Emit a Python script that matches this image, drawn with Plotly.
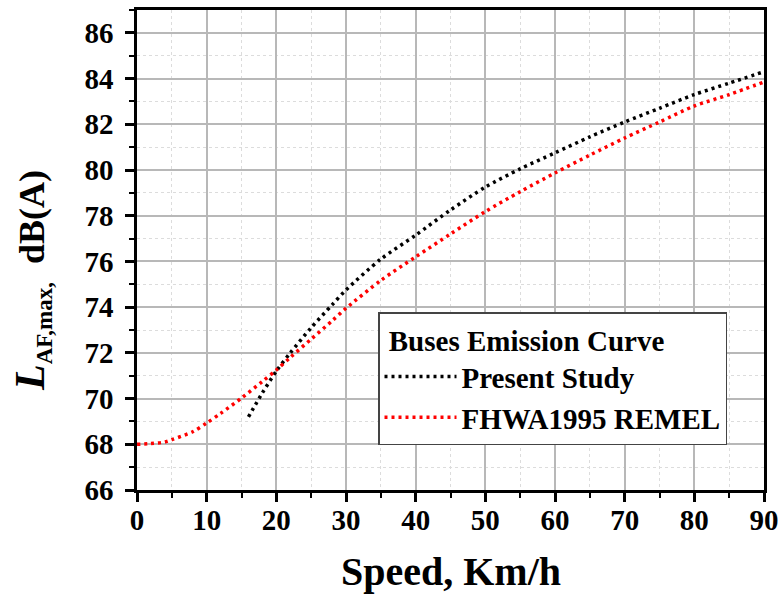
import plotly.graph_objects as go

# Data
speed_present = [16, 18, 20, 22, 25, 28, 30, 35, 40, 45, 50, 55, 60, 65, 70, 75, 80, 85, 90]
level_present = [69.2, 70.25, 71.2, 72.0, 73.1, 74.1, 74.75, 76.1, 77.15, 78.25, 79.25, 80.05,
                 80.75, 81.45, 82.1, 82.7, 83.3, 83.8, 84.3]

speed_fhwa = [0, 2, 4, 5, 8, 10, 12, 15, 18, 20, 22, 25, 28, 30, 35, 40, 45, 50, 55, 60,
              65, 70, 75, 80, 85, 90]
level_fhwa = [68.0, 68.03, 68.1, 68.2, 68.55, 68.93, 69.35, 70.02, 70.75, 71.25, 71.8, 72.6,
              73.4, 73.95, 75.17, 76.2, 77.2, 78.18, 79.05, 79.87, 80.65, 81.4, 82.1, 82.8,
              83.3, 83.85]

FONT = "Liberation Serif"

fig = go.Figure()
fig.add_trace(go.Scatter(
    x=speed_present, y=level_present, mode="lines", name="Present Study",
    line=dict(color="black", width=3.5, dash="3px,4px", shape="spline", smoothing=0.8),
))
fig.add_trace(go.Scatter(
    x=speed_fhwa, y=level_fhwa, mode="lines", name="FHWA1995 REMEL",
    line=dict(color="#ff0000", width=3.5, dash="3px,4px", shape="spline", smoothing=0.8),
))

axis_common = dict(
    showline=True, linecolor="black", linewidth=2.5, mirror=True,
    ticks="outside", ticklen=9, tickwidth=2.5, tickcolor="black",
    showgrid=True, gridcolor="#b8b8b8", gridwidth=1.5,
    zeroline=False, automargin=False,
    tickfont=dict(family=FONT, size=29, color="black", weight="bold"),
)

fig.update_xaxes(
    range=[0, 90], dtick=10, tick0=0,
    minor=dict(dtick=5, ticks="outside", ticklen=5, tickwidth=2, tickcolor="black",
               showgrid=True, gridcolor="#dcdcdc", griddash="dot", gridwidth=1),
    ticklabelstandoff=-7,
    **axis_common,
)
fig.update_yaxes(
    range=[66, 87], dtick=2, tick0=66,
    minor=dict(dtick=1, ticks="outside", ticklen=5, tickwidth=2, tickcolor="black",
               showgrid=True, gridcolor="#dcdcdc", griddash="dot", gridwidth=1),
    ticklabelstandoff=6,
    **axis_common,
)

# Axis titles
fig.add_annotation(
    xref="paper", yref="paper", x=0.5, y=-0.1708,
    xanchor="center", yanchor="middle", showarrow=False,
    text="Speed, Km/h",
    font=dict(family=FONT, size=40, color="black", weight="bold"),
)
fig.add_annotation(
    xref="paper", yref="paper", x=-0.1675, y=0.4375,
    xanchor="center", yanchor="middle", textangle=-90, showarrow=False,
    text=('<span style="font-size:42px"><i>L</i></span>'
          '<sub><span style="font-size:23px">AF,max,</span></sub>'
          '  dB(A)'),
    font=dict(family=FONT, size=36, color="black", weight="bold"),
)

fig.update_layout(
    width=781, height=594,
    margin=dict(l=137, r=17, t=10, b=104),
    plot_bgcolor="white", paper_bgcolor="white",
    showlegend=True,
    legend=dict(
        title=dict(text=" Buses Emission Curve",
                   font=dict(family=FONT, size=29, color="black", weight="bold")),
        font=dict(family=FONT, size=29, color="black", weight="bold"),
        x=(378 - 137) / 627, y=(490 - 312) / 480, xanchor="left", yanchor="top",
        bgcolor="white", bordercolor="#444444", borderwidth=1.5,
        itemwidth=72, tracegroupgap=0,
    ),
)

fig.write_html("out.html")
